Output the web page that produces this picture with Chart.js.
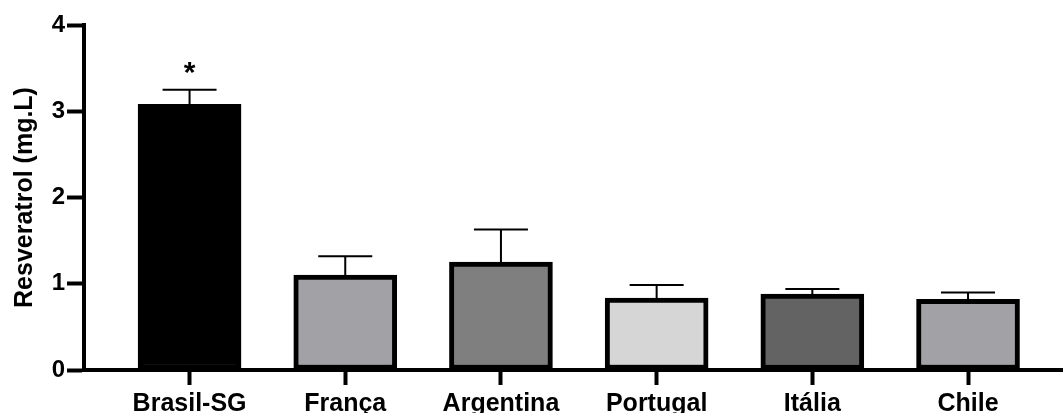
<!DOCTYPE html>
<html lang="pt">
<head>
<meta charset="utf-8">
<title>Resveratrol</title>
<script src="https://cdn.jsdelivr.net/npm/chart.js@4/dist/chart.umd.min.js"></script>
<style>
  html, body { margin: 0; padding: 0; background: #fff; }
  #wrap { width: 1063px; height: 413px; }
</style>
</head>
<body>
<div id="wrap"><canvas id="resveratrolChart" width="1063" height="413"></canvas></div>
<script>
// ===== data =====
const categories = ["Brasil-SG", "França", "Argentina", "Portugal", "Itália", "Chile"];
const means = [3.08, 1.10, 1.25, 0.835, 0.88, 0.82];
const sem = [0.17, 0.22, 0.38, 0.15, 0.06, 0.08];
const marks = ["*", "", "", "", "", ""];
const barColors = ["#000000", "#a2a2a6", "#7f7f7f", "#d6d6d6", "#636363", "#a2a2a6"];
const yTicks = [0, 1, 2, 3, 4];

const FONT = "'Liberation Sans', Arial, Helvetica, sans-serif";

// error bars + significance marks
const errorBarPlugin = {
  id: "errorBars",
  afterDatasetsDraw(chart) {
    const { ctx } = chart;
    const meta = chart.getDatasetMeta(0);
    const y = chart.scales.y;
    ctx.save();
    ctx.strokeStyle = "#000";
    ctx.lineWidth = 2;
    meta.data.forEach((bar, i) => {
      const top = y.getPixelForValue(means[i]);
      const hi = y.getPixelForValue(means[i] + sem[i]);
      ctx.beginPath();
      ctx.moveTo(bar.x, top);
      ctx.lineTo(bar.x, hi);
      ctx.moveTo(bar.x - 27, hi);
      ctx.lineTo(bar.x + 27, hi);
      ctx.stroke();
      if (marks[i]) {
        ctx.fillStyle = "#000";
        ctx.font = "bold 30px " + FONT;
        ctx.textAlign = "center";
        ctx.textBaseline = "middle";
        ctx.fillText(marks[i], bar.x, hi - 16);
      }
    });
    ctx.restore();
  },
};

new Chart(document.getElementById("resveratrolChart"), {
  type: "bar",
  data: {
    datasets: [
      {
        data: means.map((v, i) => ({ x: i, y: v })),
        backgroundColor: barColors,
        borderColor: "#000",
        borderWidth: 5,
        borderSkipped: false,
        barThickness: 103,
      },
    ],
  },
  options: {
    responsive: false,
    animation: false,
    devicePixelRatio: 1,
    layout: { padding: { top: 25, left: 0, right: 0, bottom: 0 } },
    plugins: {
      legend: { display: false },
      tooltip: { enabled: false },
    },
    scales: {
      x: {
        type: "linear",
        offset: false,
        min: -0.678,
        max: 5.61,
        afterBuildTicks: (axis) => {
          axis.ticks = categories.map((_, i) => ({ value: i }));
        },
        afterFit: (s) => { s.height = 43; },
        ticks: {
          callback: (v) => categories[v],
          color: "#000",
          font: { family: FONT, size: 25, weight: "bold" },
          padding: 4,
          maxRotation: 0,
          autoSkip: false,
        },
        grid: {
          offset: false,
          drawOnChartArea: false,
          drawTicks: true,
          tickLength: 15,
          tickWidth: 4,
          tickColor: "#000",
        },
        border: { display: true, color: "#000", width: 4 },
      },
      y: {
        min: 0,
        max: 4,
        afterBuildTicks: (axis) => {
          axis.ticks = yTicks.map((v) => ({ value: v }));
        },
        afterFit: (s) => { s.width = 84; },
        ticks: {
          color: "#000",
          font: { family: FONT, size: 24, weight: "bold" },
          padding: 2,
        },
        grid: {
          drawOnChartArea: false,
          drawTicks: true,
          tickLength: 17,
          tickWidth: 4,
          tickColor: "#000",
        },
        border: { display: true, color: "#000", width: 4 },
        title: {
          display: true,
          text: "Resveratrol (mg.L)",
          color: "#000",
          font: { family: FONT, size: 25, weight: "bold" },
          padding: { top: 10, bottom: 0 },
        },
      },
    },
  },
  plugins: [errorBarPlugin],
});
</script>
</body>
</html>
